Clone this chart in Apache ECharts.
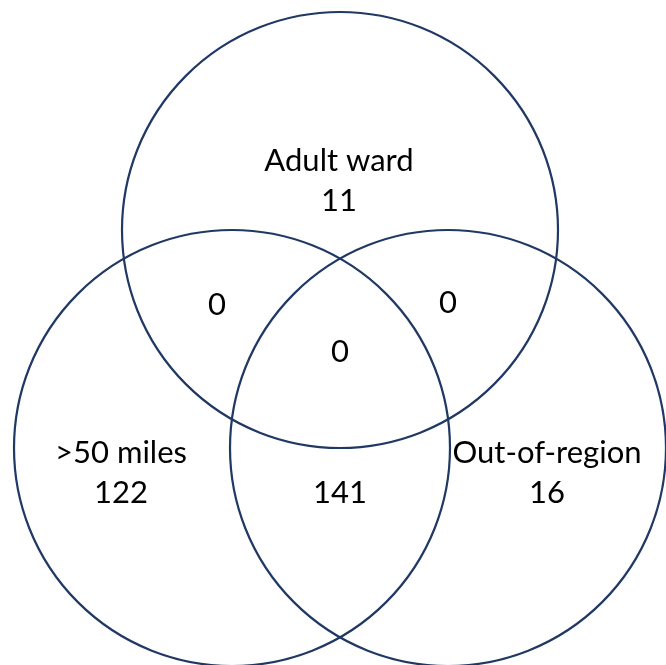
<!DOCTYPE html>
<html>
<head>
<meta charset="utf-8">
<script src="https://cdn.jsdelivr.net/npm/echarts@6/dist/echarts.min.js"></script>
<style>html,body{margin:0;padding:0;background:#fff}#c{width:666px;height:665px}</style>
</head>
<body>
<div id="c"></div>
<script>
// Data
const setNames = ['Adult ward', '>50 miles', 'Out-of-region'];
const onlyCounts = [11, 122, 16];
const pairNames = ['Adult ward & >50 miles', 'Adult ward & Out-of-region', '>50 miles & Out-of-region'];
const pairCounts = [0, 0, 141];
const tripleCount = [0];

// Layout (diagram geometry in axis units)
const circleCenters = [[340, 230], [232, 448], [448, 448]];
const circleRadius = 218;
const onlyLabelPos = [[339, 181], [121, 473], [547, 473]];
const pairLabelPos = [[217, 305], [448, 303], [340, 493]];
const tripleLabelPos = [[340, 352]];

const circleData = setNames.map((n, i) => [circleCenters[i][0], circleCenters[i][1], circleRadius, n]);
const textData = [];
setNames.forEach((n, i) => textData.push([onlyLabelPos[i][0], onlyLabelPos[i][1], n + '\n' + onlyCounts[i]]));
pairNames.forEach((n, i) => textData.push([pairLabelPos[i][0], pairLabelPos[i][1], String(pairCounts[i])]));
textData.push([tripleLabelPos[0][0], tripleLabelPos[0][1], String(tripleCount[0])]);

const chart = echarts.init(document.getElementById('c'));
chart.setOption({
  animation: false,
  grid: {left: 0, right: 0, top: 0, bottom: 0},
  xAxis: {type: 'value', min: 0, max: 666, show: false},
  yAxis: {type: 'value', min: 0, max: 665, inverse: true, show: false},
  series: [
    {
      type: 'custom',
      data: circleData,
      renderItem: function (params, api) {
        const c = api.coord([api.value(0), api.value(1)]);
        const r = api.size([api.value(2), 0])[0];
        return {
          type: 'circle',
          shape: {cx: c[0], cy: c[1], r: r},
          style: {fill: 'none', stroke: '#203864', lineWidth: 2.2}
        };
      }
    },
    {
      type: 'custom',
      data: textData,
      renderItem: function (params, api) {
        const c = api.coord([api.value(0), api.value(1)]);
        return {
          type: 'text',
          x: c[0], y: c[1],
          style: {
            text: textData[params.dataIndex][2],
            fill: '#000',
            font: '31px Lato',
            lineHeight: 40,
            align: 'center',
            verticalAlign: 'middle'
          }
        };
      }
    }
  ]
});
</script>
</body>
</html>
